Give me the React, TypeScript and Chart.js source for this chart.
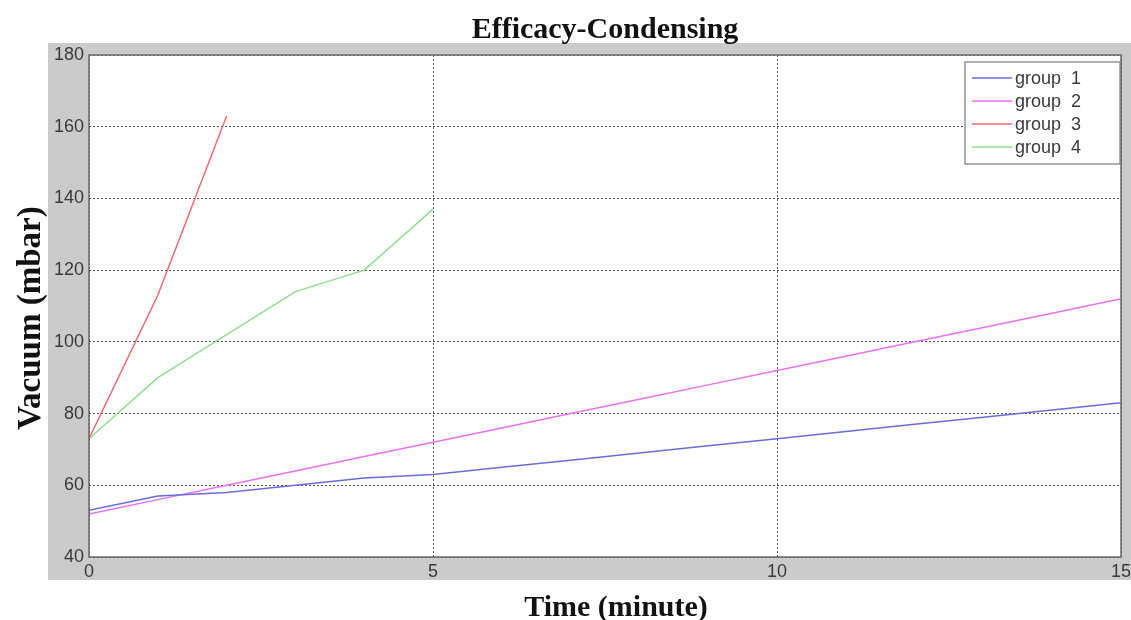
import React, { useEffect, useRef } from "react";
import { Chart, registerables } from "chart.js";

Chart.register(...registerables);

// Time axis (minutes) and the vacuum readings (mbar) for each group
const timeMinutes = [0, 1, 2, 3, 4, 5, 6, 7, 8, 9, 10, 11, 12, 13, 14, 15];
const group1 = [53, 57, 58, 60, 62, 63, 65, 67, 69, 71, 73, 75, 77, 79, 81, 83];
const group2 = [52, 56, 60, 64, 68, 72, 76, 80, 84, 88, 92, 96, 100, 104, 108, 112];
const group3 = [73, 113, 163];
const group4 = [73, 90, 102, 114, 120, 137];

const seriesLabels = ["group  1", "group  2", "group  3", "group  4"];
const seriesColors = ["#6c6cdc", "#e872f0", "#ee6c6c", "#8ee08e"];
const seriesValues = [group1, group2, group3, group4];

const xTicks = [0, 5, 10, 15];
const yTicks = [40, 60, 80, 100, 120, 140, 160, 180];

const chartTitle = "Efficacy-Condensing";
const xTitle = "Time (minute)";
const yTitle = "Vacuum (mbar)";

const TICK_FONT = { family: "'Liberation Sans', Arial, sans-serif", size: 18 };
const TITLE_FAMILY = "'Liberation Serif', 'Times New Roman', serif";

// Grey figure backdrop, white axes area, axes frame, axis titles and the boxed legend
const figurePlugin = {
  id: "figureDecor",
  beforeDraw(chart: Chart) {
    const { ctx, chartArea } = chart;
    ctx.save();
    ctx.fillStyle = "#ffffff";
    ctx.fillRect(0, 0, chart.width, chart.height);
    ctx.fillStyle = "#cbcbcb";
    ctx.fillRect(48, 43, chart.width - 48, 537);
    ctx.fillStyle = "#ffffff";
    ctx.fillRect(chartArea.left, chartArea.top, chartArea.right - chartArea.left, chartArea.bottom - chartArea.top);
    ctx.restore();
  },
  afterDatasetsDraw(chart: Chart) {
    const { ctx, chartArea } = chart;
    ctx.save();
    ctx.strokeStyle = "#6a6a6a";
    ctx.lineWidth = 1.5;
    ctx.strokeRect(chartArea.left, chartArea.top, chartArea.right - chartArea.left, chartArea.bottom - chartArea.top);

    // legend box
    const bx = 965, by = 62, bw = 155, bh = 102;
    ctx.fillStyle = "#ffffff";
    ctx.fillRect(bx, by, bw, bh);
    ctx.strokeStyle = "#7a7a7a";
    ctx.lineWidth = 1.2;
    ctx.strokeRect(bx, by, bw, bh);
    ctx.font = `${TICK_FONT.size}px ${TICK_FONT.family}`;
    ctx.textBaseline = "middle";
    ctx.textAlign = "left";
    chart.data.datasets.forEach((ds: any, i: number) => {
      const y = by + 16 + i * 23;
      ctx.strokeStyle = ds.borderColor;
      ctx.lineWidth = 1.5;
      ctx.beginPath();
      ctx.moveTo(bx + 7, y);
      ctx.lineTo(bx + 47, y);
      ctx.stroke();
      ctx.fillStyle = "#3a3a3a";
      ctx.fillText(ds.label, bx + 50, y + 1);
    });

    // axis titles
    ctx.fillStyle = "#111111";
    ctx.textAlign = "center";
    ctx.textBaseline = "alphabetic";
    ctx.font = `bold 30px ${TITLE_FAMILY}`;
    ctx.fillText(xTitle, 616, 616);
    ctx.translate(40, 318);
    ctx.rotate(-Math.PI / 2);
    ctx.font = `bold 33px ${TITLE_FAMILY}`;
    ctx.fillText(yTitle, 0, 0);
    ctx.restore();
  },
};

export default function App() {
  const canvasRef = useRef<HTMLCanvasElement | null>(null);

  useEffect(() => {
    if (!canvasRef.current) return;
    const datasets = seriesValues.map((vals, i) => ({
      label: seriesLabels[i],
      data: vals.map((v, k) => ({ x: timeMinutes[k], y: v })),
      borderColor: seriesColors[i],
      backgroundColor: seriesColors[i],
      borderWidth: 1.5,
      pointRadius: 0,
      tension: 0,
      fill: false,
    }));

    const gridStyle = {
      color: "rgba(60,60,60,0.9)",
      lineWidth: 1,
      drawTicks: false,
    };

    const chart = new Chart(canvasRef.current, {
      type: "line",
      data: { datasets },
      options: {
        responsive: false,
        animation: false,
        layout: { padding: { left: 0, right: 0, top: 0, bottom: 0 } },
        plugins: {
          legend: { display: false },
          tooltip: { enabled: false },
          title: {
            display: true,
            text: chartTitle,
            fullSize: false,
            color: "#111111",
            font: { family: TITLE_FAMILY, size: 30, weight: "bold", lineHeight: 1.2 },
            padding: { top: 12, bottom: 7 },
          },
        },
        scales: {
          x: {
            type: "linear",
            min: 0,
            max: 15,
            afterBuildTicks: (scale: any) => {
              scale.ticks = xTicks.map((v) => ({ value: v }));
            },
            afterFit: (scale: any) => {
              scale.height = 63;
              scale.paddingLeft = 0;
              scale.paddingRight = 10;
            },
            ticks: { font: TICK_FONT, color: "#3a3a3a", padding: 4, maxRotation: 0 },
            grid: gridStyle,
            border: { display: false, dash: [2, 2] },
          },
          y: {
            type: "linear",
            min: 40,
            max: 180,
            afterBuildTicks: (scale: any) => {
              scale.ticks = yTicks.map((v) => ({ value: v }));
            },
            afterFit: (scale: any) => {
              scale.width = 89;
            },
            ticks: { font: TICK_FONT, color: "#3a3a3a", padding: 5 },
            grid: gridStyle,
            border: { display: false, dash: [2, 2] },
          },
        },
      },
      plugins: [figurePlugin],
    });

    return () => chart.destroy();
  }, []);

  return (
    <div style={{ position: "absolute", left: 0, top: 0, width: 1131, height: 620, background: "#ffffff" }}>
      <canvas ref={canvasRef} width={1131} height={620} style={{ display: "block" }} />
    </div>
  );
}
